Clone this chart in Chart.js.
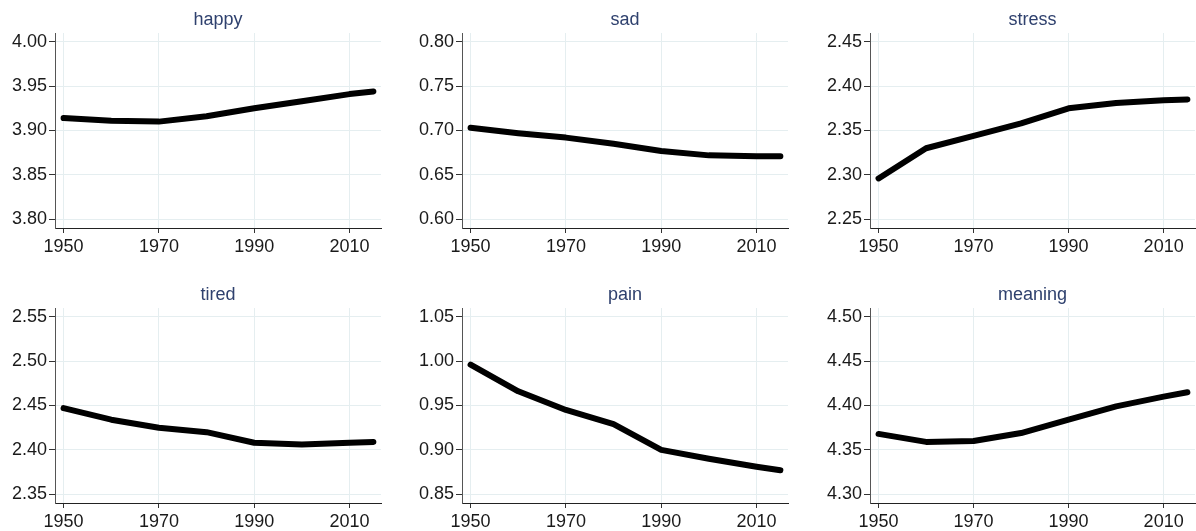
<!DOCTYPE html>
<html>
<head>
<meta charset="utf-8">
<script src="https://cdn.jsdelivr.net/npm/chart.js@4.4.1/dist/chart.umd.min.js"></script>
<style>
  html, body { margin: 0; padding: 0; background: #ffffff; }
  #wrap { position: relative; width: 1196px; height: 531px; overflow: hidden; background: #fff; }
  #wrap canvas { position: absolute; }
</style>
</head>
<body>
<div id="wrap"></div>
<script>
// ---- data ----
const years = [1950, 1960, 1970, 1980, 1990, 2000, 2010, 2015];
const xTicks = [1950, 1970, 1990, 2010];
const titles = ["happy", "sad", "stress", "tired", "pain", "meaning"];

const happy   = [3.914, 3.911, 3.910, 3.916, 3.925, 3.933, 3.941, 3.944];
const sad     = [0.703, 0.697, 0.692, 0.685, 0.677, 0.672, 0.671, 0.671];
const stress  = [2.296, 2.330, 2.344, 2.358, 2.375, 2.381, 2.384, 2.385];
const tired   = [2.447, 2.434, 2.425, 2.420, 2.408, 2.406, 2.408, 2.409];
const pain    = [0.996, 0.966, 0.945, 0.929, 0.900, 0.890, 0.881, 0.877];
const meaning = [4.368, 4.359, 4.360, 4.369, 4.384, 4.399, 4.410, 4.415];

const happyTicks   = [3.80, 3.85, 3.90, 3.95, 4.00];
const sadTicks     = [0.60, 0.65, 0.70, 0.75, 0.80];
const stressTicks  = [2.25, 2.30, 2.35, 2.40, 2.45];
const tiredTicks   = [2.35, 2.40, 2.45, 2.50, 2.55];
const painTicks    = [0.85, 0.90, 0.95, 1.00, 1.05];
const meaningTicks = [4.30, 4.35, 4.40, 4.45, 4.50];

const seriesList = [happy, sad, stress, tired, pain, meaning];
const tickList = [happyTicks, sadTicks, stressTicks, tiredTicks, painTicks, meaningTicks];

// ---- layout ----
const colL = [55, 462, 870];
const colR = [381, 788, 1195];
const rowT = [33, 308];
const rowB = [228, 503];
const Y_AXIS_W = 55, TITLE_H = 33, X_AXIS_H = 30, PAD_B = 2, PAD_R = 1;

const FONT = "'Liberation Sans', Arial, Helvetica, sans-serif";
const wrap = document.getElementById('wrap');

titles.forEach((title, i) => {
  const c = i % 3, r = Math.floor(i / 3);
  const L = colL[c], R = colR[c], T = rowT[r], B = rowB[r];
  const cv = document.createElement('canvas');
  const w = R - L + Y_AXIS_W + PAD_R;
  const h = B - T + TITLE_H + X_AXIS_H + PAD_B;
  cv.style.left = (L - Y_AXIS_W) + 'px';
  cv.style.top = (T - TITLE_H) + 'px';
  cv.style.width = w + 'px';
  cv.style.height = h + 'px';
  cv.width = w; cv.height = h;
  wrap.appendChild(cv);

  const ticks = tickList[i];
  const ymin = ticks[0] - 0.0098;
  const ymax = ticks[ticks.length - 1] + 0.0098;
  const pts = years.map((yr, k) => ({ x: yr, y: seriesList[i][k] }));

  new Chart(cv, {
    type: 'line',
    data: {
      datasets: [{
        data: pts,
        borderColor: '#000000',
        borderWidth: 6,
        borderCapStyle: 'round',
        borderJoinStyle: 'round',
        pointRadius: 0,
        tension: 0,
        fill: false
      }]
    },
    options: {
      responsive: false,
      animation: false,
      devicePixelRatio: 1,
      layout: { padding: { top: 0, left: 0, right: PAD_R, bottom: PAD_B } },
      plugins: {
        legend: { display: false },
        tooltip: { enabled: false },
        title: {
          display: true,
          text: title,
          fullSize: false,
          color: '#2f416e',
          font: { family: FONT, size: 18, weight: 'normal', lineHeight: 1.2 },
          padding: { top: 9.5, bottom: 1.9 }
        }
      },
      scales: {
        x: {
          type: 'linear',
          min: 1948.2,
          max: 2016.6,
          afterBuildTicks: (s) => { s.ticks = xTicks.map(v => ({ value: v })); },
          afterFit: (s) => { s.height = X_AXIS_H; },
          ticks: {
            color: '#1a1a1a',
            font: { family: FONT, size: 18 },
            padding: 3,
            maxRotation: 0,
            autoSkip: false,
            callback: (v) => String(v)
          },
          grid: { color: '#e5eef0', lineWidth: 1, tickLength: 5, tickColor: '#333333', drawTicks: true },
          border: { display: true, color: '#222222', width: 1 }
        },
        y: {
          type: 'linear',
          min: ymin,
          max: ymax,
          afterBuildTicks: (s) => { s.ticks = ticks.map(v => ({ value: v })); },
          afterFit: (s) => { s.width = Y_AXIS_W; },
          ticks: {
            color: '#1a1a1a',
            font: { family: FONT, size: 18 },
            padding: 2,
            autoSkip: false,
            callback: (v) => Number(v).toFixed(2)
          },
          grid: { color: '#e5eef0', lineWidth: 1, tickLength: 6, tickColor: '#333333', drawTicks: true },
          border: { display: true, color: '#555555', width: 1 }
        }
      }
    }
  });
});
</script>
</body>
</html>
